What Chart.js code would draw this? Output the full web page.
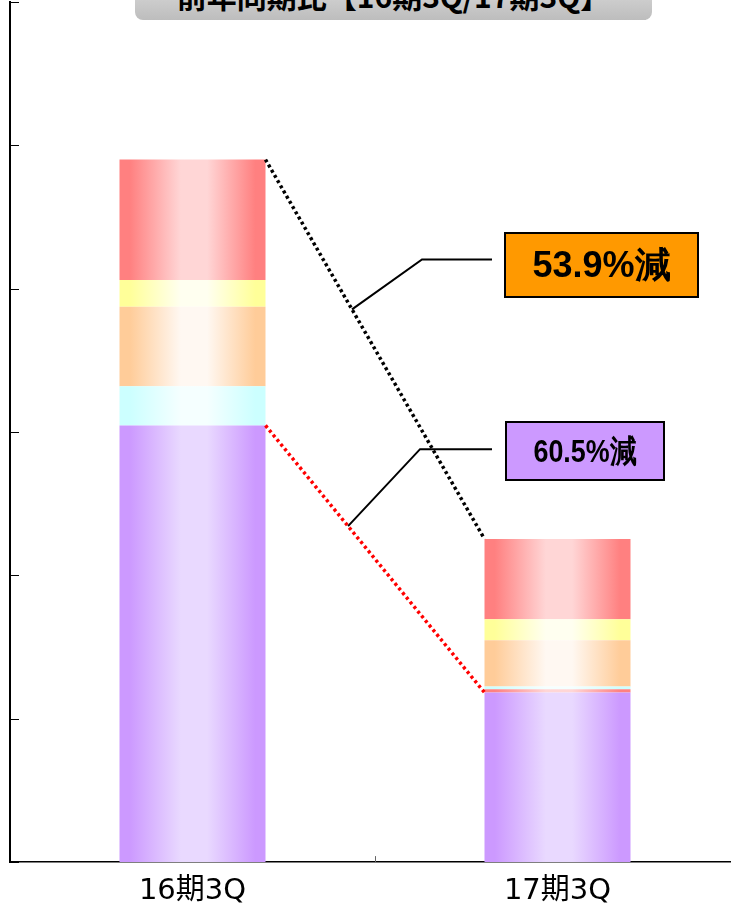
<!DOCTYPE html>
<html>
<head>
<meta charset="utf-8">
<script src="https://cdn.jsdelivr.net/npm/chart.js@4"></script>
<style>
  html, body { margin: 0; padding: 0; overflow: hidden; background: #fff; }
  #wrap { position: relative; width: 745px; height: 921px; }
  #title {
    position: absolute; left: 135px; top: -30px; width: 517px; height: 50px;
    border-radius: 8px; background: linear-gradient(#e4e4e4, #bdbdbd);
    font: bold 30px "Noto Sans CJK JP", sans-serif; line-height: 30px;
    text-align: center; color: #000; z-index: 2;
  }
  #title span { position: relative; top: 10px; }
</style>
</head>
<body>
<div id="wrap">
  <div id="title"><span>前年同期比【16期3Q/17期3Q】</span></div>
  <canvas id="chart"></canvas>
</div>
<script>
// ====================== DATA ======================
const categories = ['16期3Q', '17期3Q'];

// stacked from bottom to top
const purpleVals = [30.46, 11.83];
const pinkVals   = [0,     0.23];
const cyanVals   = [2.73,  0.19];
const orangeVals = [5.55,  3.22];
const yellowVals = [1.87,  1.47];
const redVals    = [8.40,  5.60];

const yMax = 60;
const yStep = 10;

const calloutLabels = ['53.9%減', '60.5%減'];
const calloutColors = ['#ff9900', '#cc99ff'];

const BAR_PCT = 0.4;

// edge colour / centre colour of each horizontal gradient
const GRAD = {
    purple: ['#cc99ff', '#e9d9ff'],
    pink:   ['#ff8080', '#ffd6d6'],
    cyan:   ['#ccffff', '#f5ffff'],
    orange: ['#ffcc99', '#fff8f2'],
    yellow: ['#ffff99', '#fffff0'],
    red:    ['#ff8080', '#ffd6d6']
};

function barFill([edge, light]) {
    return ctx => {
        const chart = ctx.chart;
        const xs = chart.scales.x;
        if (!xs || ctx.dataIndex === undefined || !chart.chartArea) return edge;
        const cx = xs.getPixelForValue(ctx.dataIndex);
        const half = xs.width / categories.length * BAR_PCT / 2;
        const g = chart.ctx.createLinearGradient(cx - half, 0, cx + half, 0);
        g.addColorStop(0, edge);
        g.addColorStop(0.07, edge);
        g.addColorStop(0.42, light);
        g.addColorStop(0.6, light);
        g.addColorStop(0.93, edge);
        g.addColorStop(1, edge);
        return g;
    };
}

function ds(label, data, key) {
    return { label, data, backgroundColor: barFill(GRAD[key]), borderWidth: 0,
             barPercentage: BAR_PCT, categoryPercentage: 1 };
}

// ====================== OVERLAY ======================
const overlay = {
    id: 'overlay',
    afterDatasetsDraw(chart) {
        const c = chart.ctx;
        const area = chart.chartArea;
        const ys = chart.scales.y;
        const xs = chart.scales.x;
        const top = chart.getDatasetMeta(5).data;
        const bottom = chart.getDatasetMeta(0).data;

        c.save();
        // inward y ticks
        c.strokeStyle = '#000';
        c.lineWidth = 1;
        ys.ticks.forEach(t => {
            const y = Math.round(ys.getPixelForValue(t.value)) + 0.5;
            c.beginPath(); c.moveTo(area.left, y); c.lineTo(area.left + 9, y); c.stroke();
        });
        // tick between categories
        const mx = Math.round((xs.getPixelForValue(0) + xs.getPixelForValue(1)) / 2) + 0.5;
        c.strokeStyle = '#666';
        c.beginPath(); c.moveTo(mx, area.bottom - 6); c.lineTo(mx, area.bottom); c.stroke();

        // dotted connectors
        const conn = [
            { from: top[0], to: top[1], color: '#000', t: 0.395 },
            { from: bottom[0], to: bottom[1], color: '#ff0000', t: 0.377 }
        ];
        conn.forEach(k => {
            k.x1 = k.from.x + k.from.width / 2; k.y1 = k.from.y;
            k.x2 = k.to.x - k.to.width / 2;     k.y2 = k.to.y;
            c.strokeStyle = k.color;
            c.lineWidth = 3.5;
            c.setLineDash([3, 3]);
            c.beginPath(); c.moveTo(k.x1, k.y1); c.lineTo(k.x2, k.y2); c.stroke();
        });
        c.setLineDash([]);

        // callouts
        const boxes = [
            { elbow: [70, -50], lineEnd: 492, box: [505, 233, 193, 64], squeeze: 1,
              font: 'bold 36px "Liberation Sans", Arial, sans-serif' },
            { elbow: [72, -77], lineEnd: 492, box: [506, 422, 158, 58], squeeze: 0.84,
              font: 'bold 32px "Liberation Sans", Arial, sans-serif' }
        ];
        boxes.forEach((b, i) => {
            const k = conn[i];
            const sx = k.x1 + (k.x2 - k.x1) * k.t;
            const sy = k.y1 + (k.y2 - k.y1) * k.t;
            const ex = sx + b.elbow[0], ey = sy + b.elbow[1];
            c.strokeStyle = '#000';
            c.lineWidth = 2;
            c.beginPath(); c.moveTo(sx, sy); c.lineTo(ex, ey); c.lineTo(b.lineEnd, ey); c.stroke();

            const [bx, by, bw, bh] = b.box;
            c.fillStyle = calloutColors[i];
            c.fillRect(bx, by, bw, bh);
            c.strokeRect(bx, by, bw, bh);
            c.save();
            c.translate(bx + bw / 2, by + bh / 2 + 2);
            c.scale(b.squeeze, 1);
            c.fillStyle = '#000';
            c.font = b.font;
            c.textAlign = 'center';
            c.textBaseline = 'middle';
            c.fillText(calloutLabels[i], 0, 0);
            c.restore();
        });
        c.restore();
    }
};

// ====================== CHART ======================
new Chart(document.getElementById('chart').getContext('2d'), {
    type: 'bar',
    data: {
        labels: categories,
        datasets: [
            ds('系列1', purpleVals, 'purple'),
            ds('系列2', pinkVals, 'pink'),
            ds('系列3', cyanVals, 'cyan'),
            ds('系列4', orangeVals, 'orange'),
            ds('系列5', yellowVals, 'yellow'),
            ds('系列6', redVals, 'red')
        ]
    },
    options: {
        responsive: true,
        maintainAspectRatio: false,
        animation: false,
        layout: { padding: { left: 10, top: 2, right: 5, bottom: 0 } },
        plugins: { legend: { display: false }, tooltip: { enabled: false } },
        scales: {
            x: {
                stacked: true,
                grid: { display: false, drawTicks: false },
                border: { display: true, color: '#000', width: 1.5 },
                ticks: {
                    color: '#000', padding: 13.5,
                    font: { family: '"DejaVu Sans", "Noto Sans CJK JP", sans-serif', size: 29, lineHeight: 1.1 }
                }
            },
            y: {
                stacked: true,
                min: 0, max: yMax,
                grid: { display: false, drawTicks: false },
                border: { display: true, color: '#000', width: 2 },
                ticks: { display: false, stepSize: yStep }
            }
        }
    },
    plugins: [overlay]
});
</script>
</body>
</html>
